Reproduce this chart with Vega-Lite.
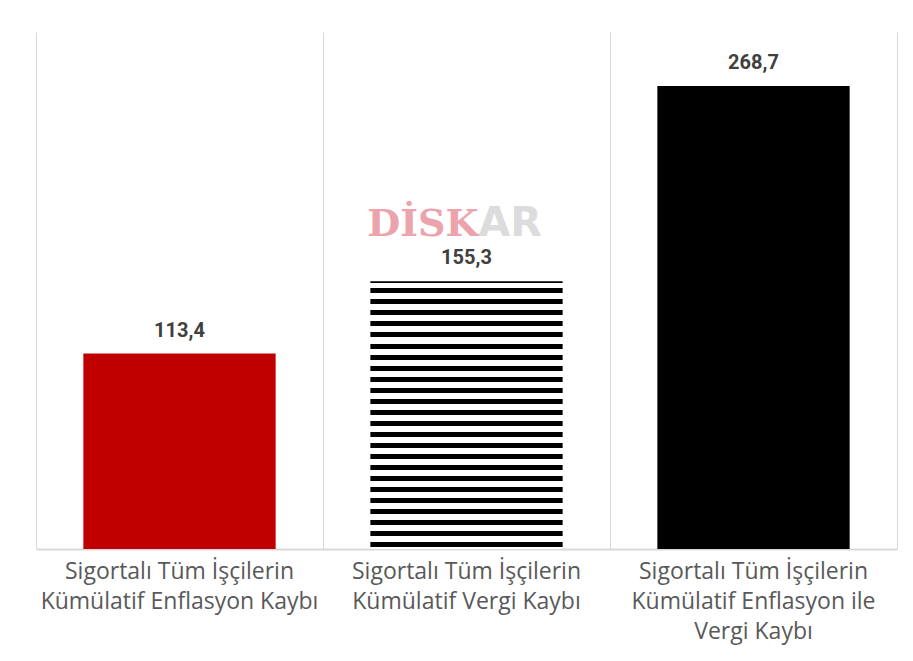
{
  "$schema": "https://vega.github.io/schema/vega-lite/v6.json",
  "autosize": {"type": "none"},
  "width": 861,
  "height": 517,
  "padding": {"left": 36, "top": 32, "right": 16, "bottom": 112},
  "background": "#ffffff",
  "config": {
    "view": {"stroke": null},
    "font": "Roboto",
    "locale": {"number": {"decimal": ",", "thousands": ".", "grouping": [3], "currency": ["", " TL"]}}
  },
  "data": {
    "values": [
      {"kategori": "Sigortalı Tüm İşçilerin Kümülatif Enflasyon Kaybı", "deger": 113.4},
      {"kategori": "Sigortalı Tüm İşçilerin Kümülatif Vergi Kaybı", "deger": 155.3},
      {"kategori": "Sigortalı Tüm İşçilerin Kümülatif Enflasyon ile Vergi Kaybı", "deger": 268.7}
    ]
  },
  "resolve": {"scale": {"x": "independent"}, "axis": {"x": "independent"}},
  "layer": [
    {
      "mark": {"type": "rule", "opacity": 0},
      "encoding": {
        "x": {
          "datum": 0,
          "type": "quantitative",
          "scale": {"domain": [0, 3], "nice": false, "zero": false},
          "axis": {
            "orient": "top",
            "values": [0, 1, 2, 3],
            "grid": true,
            "gridColor": "#d9d9d9",
            "gridWidth": 1,
            "labels": false,
            "ticks": false,
            "domain": false,
            "title": null
          }
        }
      }
    },
    {
      "encoding": {
        "x": {
          "field": "kategori",
          "type": "nominal",
          "sort": null,
          "scale": {"paddingInner": 0.33, "paddingOuter": 0.165},
          "axis": {
            "orient": "bottom",
            "title": null,
            "labelAngle": 0,
            "labelFont": "Open Sans",
            "labelFontSize": 23,
            "labelColor": "#595959",
            "labelPadding": 11,
            "labelLineHeight": 30,
            "labelLimit": 0,
            "labelExpr": "datum.value == 'Sigortalı Tüm İşçilerin Kümülatif Enflasyon ile Vergi Kaybı' ? ['Sigortalı Tüm İşçilerin', 'Kümülatif Enflasyon ile', 'Vergi Kaybı'] : ['Sigortalı Tüm İşçilerin', replace(datum.value, 'Sigortalı Tüm İşçilerin ', '')]",
            "ticks": false,
            "grid": false,
            "domainColor": "#d9d9d9",
            "domainWidth": 2
          }
        },
        "y": {
          "field": "deger",
          "type": "quantitative",
          "scale": {"domain": [0, 300]},
          "axis": null
        }
      },
      "layer": [
        {
          "mark": {"type": "bar"},
          "encoding": {
            "color": {
              "field": "kategori",
              "type": "nominal",
              "sort": null,
              "scale": {"range": ["#c00000", "#ffffff", "#000000"]},
              "legend": null
            }
          }
        },
        {
          "transform": [{"filter": "datum.kategori == 'Sigortalı Tüm İşçilerin Kümülatif Vergi Kaybı'"}],
          "mark": {
            "type": "bar",
            "fill": {
              "gradient": "linear",
              "x1": 0, "y1": 0, "x2": 0, "y2": 1,
              "stops": [
                {"offset": 0, "color": "#000000"}, {"offset": 0.005, "color": "#000000"}, {"offset": 0.005, "color": "#ffffff"},
                {"offset": 0.0262, "color": "#ffffff"}, {"offset": 0.0262, "color": "#000000"}, {"offset": 0.0449, "color": "#000000"}, {"offset": 0.0449, "color": "#ffffff"},
                {"offset": 0.0674, "color": "#ffffff"}, {"offset": 0.0674, "color": "#000000"}, {"offset": 0.0861, "color": "#000000"}, {"offset": 0.0861, "color": "#ffffff"},
                {"offset": 0.1086, "color": "#ffffff"}, {"offset": 0.1086, "color": "#000000"}, {"offset": 0.1273, "color": "#000000"}, {"offset": 0.1273, "color": "#ffffff"},
                {"offset": 0.1498, "color": "#ffffff"}, {"offset": 0.1498, "color": "#000000"}, {"offset": 0.1685, "color": "#000000"}, {"offset": 0.1685, "color": "#ffffff"},
                {"offset": 0.1910, "color": "#ffffff"}, {"offset": 0.1910, "color": "#000000"}, {"offset": 0.2097, "color": "#000000"}, {"offset": 0.2097, "color": "#ffffff"},
                {"offset": 0.2322, "color": "#ffffff"}, {"offset": 0.2322, "color": "#000000"}, {"offset": 0.2509, "color": "#000000"}, {"offset": 0.2509, "color": "#ffffff"},
                {"offset": 0.2734, "color": "#ffffff"}, {"offset": 0.2734, "color": "#000000"}, {"offset": 0.2921, "color": "#000000"}, {"offset": 0.2921, "color": "#ffffff"},
                {"offset": 0.3146, "color": "#ffffff"}, {"offset": 0.3146, "color": "#000000"}, {"offset": 0.3333, "color": "#000000"}, {"offset": 0.3333, "color": "#ffffff"},
                {"offset": 0.3558, "color": "#ffffff"}, {"offset": 0.3558, "color": "#000000"}, {"offset": 0.3745, "color": "#000000"}, {"offset": 0.3745, "color": "#ffffff"},
                {"offset": 0.3970, "color": "#ffffff"}, {"offset": 0.3970, "color": "#000000"}, {"offset": 0.4157, "color": "#000000"}, {"offset": 0.4157, "color": "#ffffff"},
                {"offset": 0.4382, "color": "#ffffff"}, {"offset": 0.4382, "color": "#000000"}, {"offset": 0.4569, "color": "#000000"}, {"offset": 0.4569, "color": "#ffffff"},
                {"offset": 0.4794, "color": "#ffffff"}, {"offset": 0.4794, "color": "#000000"}, {"offset": 0.4981, "color": "#000000"}, {"offset": 0.4981, "color": "#ffffff"},
                {"offset": 0.5206, "color": "#ffffff"}, {"offset": 0.5206, "color": "#000000"}, {"offset": 0.5393, "color": "#000000"}, {"offset": 0.5393, "color": "#ffffff"},
                {"offset": 0.5618, "color": "#ffffff"}, {"offset": 0.5618, "color": "#000000"}, {"offset": 0.5805, "color": "#000000"}, {"offset": 0.5805, "color": "#ffffff"},
                {"offset": 0.6030, "color": "#ffffff"}, {"offset": 0.6030, "color": "#000000"}, {"offset": 0.6217, "color": "#000000"}, {"offset": 0.6217, "color": "#ffffff"},
                {"offset": 0.6442, "color": "#ffffff"}, {"offset": 0.6442, "color": "#000000"}, {"offset": 0.6629, "color": "#000000"}, {"offset": 0.6629, "color": "#ffffff"},
                {"offset": 0.6854, "color": "#ffffff"}, {"offset": 0.6854, "color": "#000000"}, {"offset": 0.7041, "color": "#000000"}, {"offset": 0.7041, "color": "#ffffff"},
                {"offset": 0.7266, "color": "#ffffff"}, {"offset": 0.7266, "color": "#000000"}, {"offset": 0.7453, "color": "#000000"}, {"offset": 0.7453, "color": "#ffffff"},
                {"offset": 0.7678, "color": "#ffffff"}, {"offset": 0.7678, "color": "#000000"}, {"offset": 0.7865, "color": "#000000"}, {"offset": 0.7865, "color": "#ffffff"},
                {"offset": 0.8090, "color": "#ffffff"}, {"offset": 0.8090, "color": "#000000"}, {"offset": 0.8277, "color": "#000000"}, {"offset": 0.8277, "color": "#ffffff"},
                {"offset": 0.8502, "color": "#ffffff"}, {"offset": 0.8502, "color": "#000000"}, {"offset": 0.8689, "color": "#000000"}, {"offset": 0.8689, "color": "#ffffff"},
                {"offset": 0.8914, "color": "#ffffff"}, {"offset": 0.8914, "color": "#000000"}, {"offset": 0.9101, "color": "#000000"}, {"offset": 0.9101, "color": "#ffffff"},
                {"offset": 0.9326, "color": "#ffffff"}, {"offset": 0.9326, "color": "#000000"}, {"offset": 0.9513, "color": "#000000"}, {"offset": 0.9513, "color": "#ffffff"},
                {"offset": 0.9738, "color": "#ffffff"}, {"offset": 0.9738, "color": "#000000"}, {"offset": 0.9925, "color": "#000000"}, {"offset": 0.9925, "color": "#ffffff"},
                {"offset": 1, "color": "#ffffff"}
              ]
            }
          }
        },
        {
          "transform": [{"filter": "datum.kategori == 'Sigortalı Tüm İşçilerin Kümülatif Vergi Kaybı'"}],
          "mark": {"type": "text", "text": "DİSK", "align": "right", "baseline": "alphabetic", "dx": 12, "dy": 11, "fontSize": 38, "fontWeight": "bold", "font": "DejaVu Serif", "color": "#eda3ac"},
          "encoding": {"y": {"datum": 188}}
        },
        {
          "transform": [{"filter": "datum.kategori == 'Sigortalı Tüm İşçilerin Kümülatif Vergi Kaybı'"}],
          "mark": {"type": "text", "text": "AR", "align": "left", "baseline": "alphabetic", "dx": 12, "dy": 11, "fontSize": 41, "fontWeight": "bold", "font": "DejaVu Sans", "color": "#dcdcdc"},
          "encoding": {"y": {"datum": 188}}
        },
        {
          "mark": {"type": "text", "baseline": "alphabetic", "dy": -17, "fontSize": 20, "fontWeight": "bold", "color": "#404040"},
          "encoding": {
            "text": {"field": "deger", "type": "quantitative", "format": ".1f"}
          }
        }
      ]
    }
  ]
}
